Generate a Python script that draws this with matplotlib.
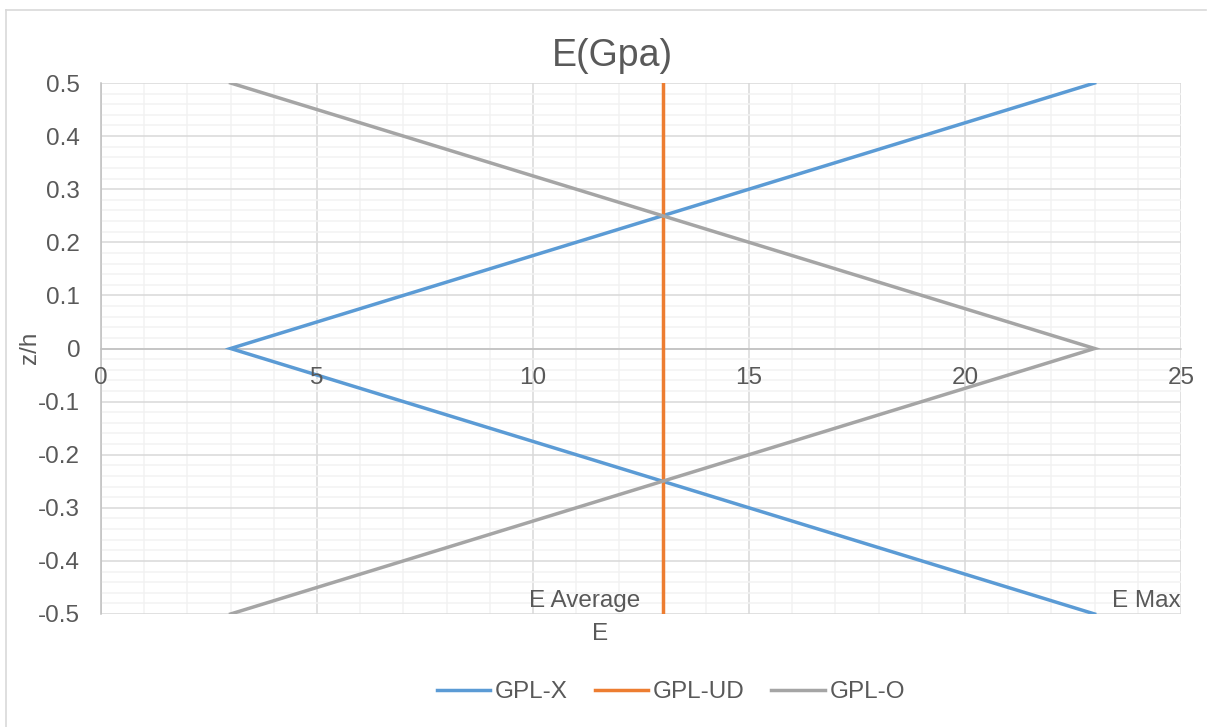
import matplotlib.pyplot as plt
from matplotlib.lines import Line2D
from matplotlib.ticker import MultipleLocator

# data
gpl_x_e = [23, 13, 3, 13, 23]
gpl_x_z = [0.5, 0.25, 0, -0.25, -0.5]
gpl_ud_e = [13, 13]
gpl_ud_z = [-0.5, 0.5]
gpl_o_e = [3, 13, 23, 13, 3]
gpl_o_z = [0.5, 0.25, 0, -0.25, -0.5]

x_ticks = [0, 5, 10, 15, 20, 25]
y_ticks = [-0.5, -0.4, -0.3, -0.2, -0.1, 0, 0.1, 0.2, 0.3, 0.4, 0.5]
y_labels = ["-0.5", "-0.4", "-0.3", "-0.2", "-0.1", "0", "0.1", "0.2", "0.3", "0.4", "0.5"]

BLUE = "#5B9BD5"
ORANGE = "#ED7D31"
GRAY = "#A5A5A5"
TEXT = "#595959"
FS = 17.5

plt.rcParams["font.family"] = ["Liberation Sans", "DejaVu Sans"]

W, H = 1212, 727
fig = plt.figure(figsize=(W / 100, H / 100), dpi=100)
ax = fig.add_axes([101 / W, 1 - 614 / H, (1181 - 101) / W, (614 - 83) / H])

ax.plot(gpl_x_e, gpl_x_z, color=BLUE, lw=2.5, label="GPL-X", solid_joinstyle="miter", zorder=3)
ax.plot(gpl_ud_e, gpl_ud_z, color=ORANGE, lw=2.5, label="GPL-UD", zorder=3)
ax.plot(gpl_o_e, gpl_o_z, color=GRAY, lw=2.5, label="GPL-O", solid_joinstyle="miter", zorder=3)

ax.set_xlim(0, 25)
ax.set_ylim(-0.5, 0.5)
ax.set_xticks(x_ticks)
ax.xaxis.set_minor_locator(MultipleLocator(1))
ax.set_yticks(y_ticks)
ax.set_yticklabels(y_labels)
ax.yaxis.set_minor_locator(MultipleLocator(0.02))

ax.grid(which="major", color="#D9D9D9", lw=1.1, zorder=0)
ax.grid(which="minor", color="#F2F2F2", lw=1.1, zorder=0)
ax.set_axisbelow(True)

for s in ["top", "right"]:
    ax.spines[s].set_visible(False)
ax.spines["bottom"].set_position(("data", 0))
for s in ["bottom", "left"]:
    ax.spines[s].set_color("#BFBFBF")
    ax.spines[s].set_linewidth(1.1)
ax.spines["bottom"].set_zorder(1)

ax.tick_params(which="both", length=0, labelsize=FS, labelcolor=TEXT)
ax.tick_params(axis="y", pad=15)
ax.tick_params(axis="x", labelbottom=False)

# x tick labels drawn as text so gridlines stay behind them
for t in x_ticks:
    ax.annotate(str(t), (t, 0), xytext=(0, -30), textcoords="offset pixels",
                ha="center", va="center", fontsize=FS, color=TEXT, zorder=5)

ax.text(11.2, -0.475, "E Average", ha="center", va="center", fontsize=FS, color=TEXT)
ax.text(24.2, -0.475, "E Max", ha="center", va="center", fontsize=FS, color=TEXT)

fig.text(612 / W, 1 - 56 / H, "E(Gpa)", ha="center", va="center", fontsize=27, color=TEXT)
fig.text(600 / W, 1 - 634 / H, "E", ha="center", va="center", fontsize=FS, color=TEXT)
fig.text(30 / W, 1 - 348 / H, "z/h", ha="center", va="center", fontsize=FS, color=TEXT, rotation=90)

fig.legend(
    loc="center",
    bbox_to_anchor=(671 / W, 1 - 692 / H),
    ncol=3,
    frameon=False,
    fontsize=FS,
    labelcolor=TEXT,
    handlelength=2.2,
    handletextpad=0.2,
    columnspacing=1.1,
)

# chart frame (left and top edges visible in the reference)
fig.add_artist(Line2D([6 / W, 6 / W], [0, 1 - 10 / H], color="#D9D9D9", lw=1.2))
fig.add_artist(Line2D([6 / W, 1206 / W], [1 - 10 / H, 1 - 10 / H], color="#D9D9D9", lw=1.2))

fig.savefig("out.png", dpi=100)
